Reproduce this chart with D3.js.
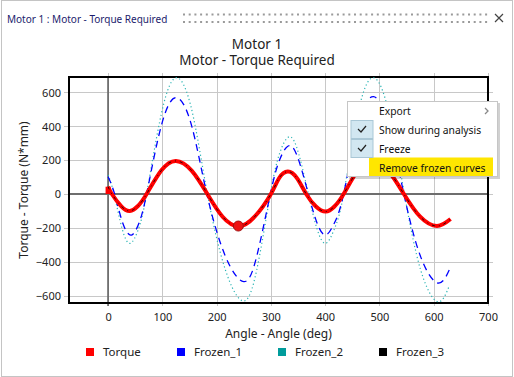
<!DOCTYPE html>
<html>
<head>
<meta charset="utf-8">
<script src="https://cdn.jsdelivr.net/npm/d3@7"></script>
<style>
  html, body { margin: 0; padding: 0; background: #fff; }
  svg { display: block; font-family: "Segoe UI", "Noto Sans", sans-serif; }
</style>
</head>
<body>
<svg id="chart" width="514" height="377"></svg>
<script>
// donnees : [angle (deg), couple (N*mm)]
var torqueData = [[0, 43], [7, 0], [24, -71], [40, -100], [55, -71], [71, 0], [98, 138], [125, 195], [154, 138],
    [183, 0], [211, -134], [240, -190], [270, -134], [300, 0], [315, 93], [331, 132], [348, 93], [365, 0],
    [383, -74], [401, -104], [417, -74], [434, 0], [460, 138], [487, 195], [516, 138], [545, 0], [575, -134],
    [606, -189], [631, -148]];
var frozen1Data = [[0, 102], [12, 0], [27, -171], [43, -242], [57, -171], [71, 0], [98, 402], [126, 568], [154, 402],
    [182, 0], [216, -366], [250, -517], [274, -366], [299, 0], [316, 201], [334, 285], [351, 201], [369, 0],
    [385, -171], [401, -242], [417, -171], [434, 0], [461, 406], [489, 574], [517, 406], [545, 0], [576, -371],
    [608, -525], [630, -438]];
var frozen2Data = [[0, 112], [11, 0], [26, -206], [41, -291], [56, -206], [71, 0], [99, 485], [127, 686], [155, 485],
    [183, 0], [216, -446], [249, -631], [274, -446], [299, 0], [316, 239], [334, 338], [351, 239], [369, 0],
    [385, -206], [401, -291], [417, -206], [434, 0], [461, 485], [489, 686], [517, 485], [546, 0], [576, -449],
    [607, -635], [628, -547]];
var frozen3Data = torqueData; // Frozen_3 se superpose exactement a Torque
var markerPoint = [240, -189];

var xTicks = [0, 100, 200, 300, 400, 500, 600, 700];
var yTicks = [-600, -400, -200, 0, 200, 400, 600];
var legendNames = ["Torque", "Frozen_1", "Frozen_2", "Frozen_3"];
var legendColors = ["#ff0000", "#0000ff", "#009c9c", "#000000"];
var menuItems = ["Export", "Show during analysis", "Freeze", "Remove frozen curves"];

(function() {
    var svg = d3.select("#chart");
    var pLeft = 69, pRight = 488, pTop = 77, pBottom = 303;
    var fontFam = "'Segoe UI', 'Noto Sans', sans-serif";

    var x = d3.scaleLinear().domain([-72, 700]).range([pLeft, pRight]);
    var y = d3.scaleLinear().domain([-643, 690]).range([pBottom, pTop]);

    // cadre de la fenetre
    svg.append("rect").attr("x", 1.5).attr("y", 0.5).attr("width", 511).attr("height", 376)
        .attr("fill", "#fff").attr("stroke", "#c4c4c4");

    svg.append("text").attr("x", 7).attr("y", 22.5).attr("font-size", 10).attr("fill", "#1c1c6c")
        .text("Motor 1 : Motor - Torque Required");

    // poignee pointillee
    var dots = d3.range(183, 486, 5.7);
    [14.5, 22].forEach(function(yy) {
        svg.append("g").selectAll("rect").data(dots).join("rect")
            .attr("x", function(d) { return d; }).attr("y", yy - 1)
            .attr("width", 2).attr("height", 2).attr("fill", "#9a9a9a");
    });
    svg.append("path").attr("d", "M495,14L503,22M503,14L495,22").attr("stroke", "#444").attr("stroke-width", 1.2);

    // titres
    svg.append("text").attr("x", 257).attr("y", 48.5).attr("text-anchor", "middle").attr("font-size", 13.5)
        .attr("fill", "#222").text("Motor 1");
    svg.append("text").attr("x", 257).attr("y", 65).attr("text-anchor", "middle").attr("font-size", 13.5)
        .attr("fill", "#222").text("Motor - Torque Required");

    // grille
    var grid = svg.append("g").attr("stroke", "#c8c8c8").attr("stroke-width", 1);
    grid.selectAll(".gx").data(xTicks).join("line")
        .attr("x1", function(d) { return Math.round(x(d)) + 0.5; }).attr("x2", function(d) { return Math.round(x(d)) + 0.5; })
        .attr("y1", pTop - 4).attr("y2", pBottom + 3);
    grid.selectAll(".gy").data(yTicks).join("line")
        .attr("y1", function(d) { return Math.round(y(d)) + 0.5; }).attr("y2", function(d) { return Math.round(y(d)) + 0.5; })
        .attr("x1", pLeft - 5).attr("x2", pRight + 5);

    // axes
    var xAxis = d3.axisBottom(x).tickValues(xTicks).tickSize(0).tickPadding(0);
    var gx = svg.append("g").attr("transform", "translate(0," + (pBottom + 18) + ")").call(xAxis);
    gx.select(".domain").remove();
    gx.selectAll("text").attr("font-size", 11).attr("fill", "#222").attr("dy", 0).attr("font-family", fontFam);

    var yAxis = d3.axisLeft(y).tickValues(yTicks).tickSize(0).tickPadding(0);
    var gy = svg.append("g").attr("transform", "translate(61,0)").call(yAxis);
    gy.select(".domain").remove();
    gy.selectAll("text").attr("font-size", 11).attr("fill", "#222").attr("dy", "0.35em").attr("font-family", fontFam);

    // lignes zero
    svg.append("line").attr("x1", x(0)).attr("x2", x(0)).attr("y1", pTop).attr("y2", pBottom + 3)
        .attr("stroke", "#6e6e6e").attr("stroke-width", 1.8);
    svg.append("line").attr("x1", pLeft).attr("x2", pRight).attr("y1", y(0)).attr("y2", y(0))
        .attr("stroke", "#6e6e6e").attr("stroke-width", 1.8);

    // cadre du trace
    svg.append("rect").attr("x", pLeft).attr("y", pTop).attr("width", pRight - pLeft).attr("height", pBottom - pTop)
        .attr("fill", "none").attr("stroke", "#000").attr("stroke-width", 2);

    // courbes
    var line = d3.line()
        .x(function(d) { return x(d[0]); })
        .y(function(d) { return y(d[1]); })
        .curve(d3.curveNatural);

    svg.append("path").datum(frozen2Data).attr("d", line).attr("fill", "none")
        .attr("stroke", "#2ab4b4").attr("stroke-width", 1.2).attr("stroke-dasharray", "1.2,2.6");
    svg.append("path").datum(frozen1Data).attr("d", line).attr("fill", "none")
        .attr("stroke", "#0000ff").attr("stroke-width", 1.3).attr("stroke-dasharray", "7,5");
    svg.append("rect").attr("x", x(0) - 2.5).attr("y", y(torqueData[0][1]))
        .attr("width", 5).attr("height", y(0) - y(torqueData[0][1]))
        .attr("fill", "#ff0000");
    svg.append("path").datum(torqueData).attr("d", line).attr("fill", "none")
        .attr("stroke", "#ff0000").attr("stroke-width", 4);
    svg.append("path").datum(frozen3Data).attr("d", line).attr("fill", "none")
        .attr("stroke", "#000").attr("stroke-opacity", 0.8).attr("stroke-width", 1).attr("stroke-dasharray", "3,4,1,4");
    svg.append("circle").attr("cx", x(markerPoint[0])).attr("cy", y(markerPoint[1])).attr("r", 5)
        .attr("fill", "#ee1111").attr("stroke", "#a01010").attr("stroke-width", 1);

    // titres des axes
    svg.append("text").attr("x", (pLeft + pRight) / 2).attr("y", 338).attr("text-anchor", "middle")
        .attr("font-size", 12).attr("fill", "#222").text("Angle - Angle (deg)");
    svg.append("text").attr("transform", "translate(28," + ((pTop + pBottom) / 2) + ") rotate(-90)")
        .attr("text-anchor", "middle").attr("font-size", 12).attr("fill", "#222").text("Torque - Torque (N*mm)");

    // legende
    var legPos = [86, 177, 278, 379];
    legendNames.forEach(function(name, i) {
        var g = svg.append("g").attr("transform", "translate(" + legPos[i] + ",348)");
        g.append("rect").attr("width", 8).attr("height", 8).attr("fill", legendColors[i]);
        g.append("text").attr("x", 17).attr("y", 8).attr("font-size", 11.5).attr("fill", "#222").text(name);
    });

    // menu contextuel
    var menu = svg.append("g").attr("transform", "translate(347,101)");
    menu.append("rect").attr("x", 2).attr("y", 2).attr("width", 151).attr("height", 76)
        .attr("fill", "#000").attr("opacity", 0.18);
    menu.append("rect").attr("x", 0.5).attr("y", 0.5).attr("width", 150).attr("height", 75)
        .attr("fill", "#fff").attr("stroke", "#c6c6c6");
    menu.append("rect").attr("x", 22).attr("y", 56.5).attr("width", 124).attr("height", 18.5).attr("fill", "#ffe600");
    [1, 2].forEach(function(i) {
        var yy = 19 + (i - 1) * 19;
        menu.append("rect").attr("x", 4).attr("y", yy + 0.5).attr("width", 22).attr("height", 18)
            .attr("fill", "#d2e7f1").attr("stroke", "#a9c7d6");
        menu.append("path").attr("d", "M11," + (yy + 9) + "l3,3l5,-6").attr("fill", "none")
            .attr("stroke", "#222").attr("stroke-width", 1.2);
    });
    menu.selectAll(".item").data(menuItems).join("text")
        .attr("x", 32).attr("y", function(d, i) { return 14 + i * 19; })
        .attr("font-size", 10.3).attr("fill", "#111").text(function(d) { return d; });
    menu.append("path").attr("d", "M138,7l3,3l-3,3").attr("fill", "none").attr("stroke", "#888").attr("stroke-width", 1.3);
})();
</script>
</body>
</html>
